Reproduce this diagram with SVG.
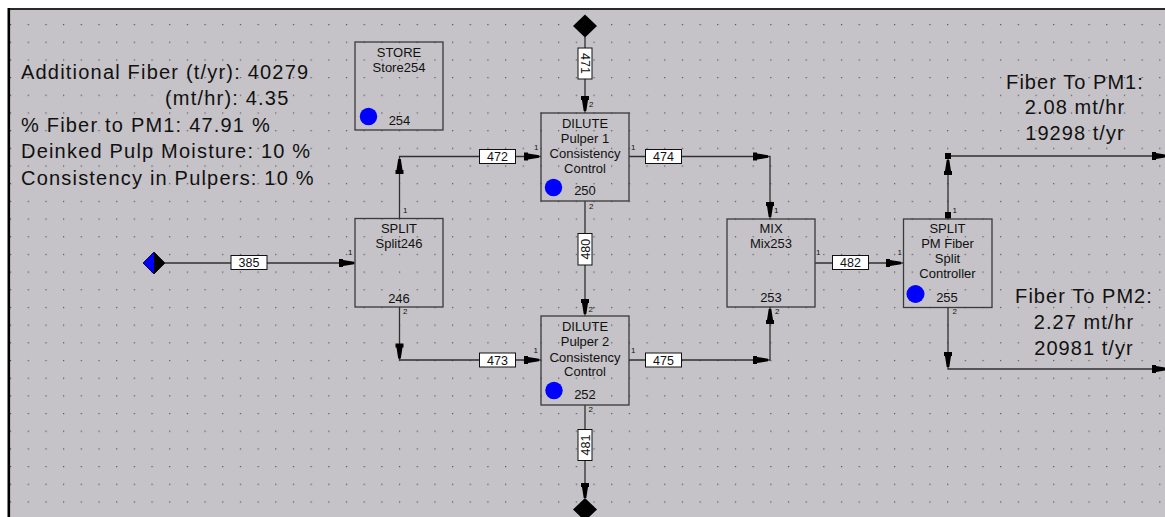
<svg xmlns="http://www.w3.org/2000/svg" xmlns:xlink="http://www.w3.org/1999/xlink" width="1165" height="517" viewBox="0 0 1165 517">
<style>
text{font-family:"Liberation Sans",Arial,sans-serif;fill:#111}
.nt{font-size:13px;text-anchor:middle}
.big{font-size:20px;letter-spacing:1.2px}
.bigc{font-size:20px;letter-spacing:1.05px;text-anchor:middle}
.port{font-size:8px}
.node{fill:none;stroke:#3a3a3a;stroke-width:1.3}
.dot{fill:#0000ff}
.ln{fill:none;stroke:#303030;stroke-width:1.3}
.lb{fill:#fff;stroke:#111;stroke-width:1}
.lt{font-size:12.5px;text-anchor:middle}
.ah{fill:#000}
</style>
<defs>
<pattern id="grid" patternUnits="userSpaceOnUse" x="10" y="6.32" width="17.68" height="17.68">
<rect x="0" y="0" width="1.2" height="1.2" fill="#555"/>
</pattern>
<path id="ah" class="ah" d="M-15,-4H-11V-3L0,-1.3V1.3L-11,3V4H-15Z"/>
</defs>
<rect x="0" y="0" width="1165" height="517" fill="#ffffff"/>
<rect x="9" y="9" width="1156" height="508" fill="#c5c3c7"/>
<rect x="9" y="9" width="1156" height="508" fill="url(#grid)"/>
<line x1="8" y1="9" x2="1165" y2="9" stroke="#2a2a2a" stroke-width="2"/>
<line x1="8.8" y1="8" x2="8.8" y2="517" stroke="#000" stroke-width="2.6"/>

<g id="info-left">
<text class="big" x="21" y="79">Additional Fiber (t/yr): 40279</text>
<text class="big" x="165" y="105">(mt/hr): 4.35</text>
<text class="big" x="21" y="132">% Fiber to PM1: 47.91 %</text>
<text class="big" x="21" y="158">Deinked Pulp Moisture: 10 %</text>
<text class="big" x="21" y="184.5">Consistency in Pulpers: 10 %</text>
</g>
<g id="info-pm1">
<text class="bigc" x="1075" y="88.5">Fiber To PM1:</text>
<text class="bigc" x="1075" y="114">2.08 mt/hr</text>
<text class="bigc" x="1075" y="140">19298 t/yr</text>
</g>
<g id="info-pm2">
<text class="bigc" x="1084" y="302.5">Fiber To PM2:</text>
<text class="bigc" x="1084" y="328.5">2.27 mt/hr</text>
<text class="bigc" x="1084" y="355">20981 t/yr</text>
</g>

<g id="connectors">
<path class="ln" d="M165,263H355"/>
<path class="ln" d="M585,37V113"/>
<path class="ln" d="M399.5,218V156.5H541"/>
<path class="ln" d="M629,156.5H770V219"/>
<path class="ln" d="M585,201V316"/>
<path class="ln" d="M399.5,307V360H541"/>
<path class="ln" d="M629,360H770V307"/>
<path class="ln" d="M815,263H903"/>
<path class="ln" d="M585,405V498"/>
<path class="ln" d="M948,219V156H1165"/>
<path class="ln" d="M948,307V369H1165"/>

<use xlink:href="#ah" transform="translate(354,263)"/>
<use xlink:href="#ah" transform="translate(399.5,159) rotate(-90)"/>
<use xlink:href="#ah" transform="translate(539,156.5)"/>
<use xlink:href="#ah" transform="translate(585,111) rotate(90)"/>
<use xlink:href="#ah" transform="translate(768,156.5)"/>
<use xlink:href="#ah" transform="translate(770,217) rotate(90)"/>
<use xlink:href="#ah" transform="translate(585,314) rotate(90)"/>
<use xlink:href="#ah" transform="translate(399.5,358.5) rotate(90)"/>
<use xlink:href="#ah" transform="translate(539,360)"/>
<use xlink:href="#ah" transform="translate(768,360)"/>
<use xlink:href="#ah" transform="translate(770,309) rotate(-90)"/>
<use xlink:href="#ah" transform="translate(901,263)"/>
<use xlink:href="#ah" transform="translate(585,498) rotate(90)"/>
<use xlink:href="#ah" transform="translate(948,160) rotate(-90)"/>
<use xlink:href="#ah" transform="translate(1167,156)"/>
<use xlink:href="#ah" transform="translate(948,367) rotate(90)"/>
<use xlink:href="#ah" transform="translate(1167,369)"/>
<rect class="ah" x="945" y="212" width="6" height="6.5"/>
<rect class="ah" x="945" y="153" width="6" height="6"/>

<rect class="lb" x="231" y="255.5" width="36" height="14"/>
<text class="lt" x="249" y="267.2">385</text>
<rect class="lb" x="479.5" y="149.5" width="36" height="14"/>
<text class="lt" x="497.5" y="161.2">472</text>
<rect class="lb" x="645.5" y="149.5" width="36" height="14"/>
<text class="lt" x="663.5" y="161.2">474</text>
<rect class="lb" x="479.5" y="353" width="36" height="14"/>
<text class="lt" x="497.5" y="364.7">473</text>
<rect class="lb" x="645.5" y="353" width="36" height="14"/>
<text class="lt" x="663.5" y="364.7">475</text>
<rect class="lb" x="832.5" y="255.5" width="36" height="14"/>
<text class="lt" x="850.5" y="267.2">482</text>
<rect class="lb" x="578" y="48" width="14" height="31"/>
<text class="lt" transform="translate(580.5,63.5) rotate(90)">471</text>
<rect class="lb" x="578" y="233.5" width="14" height="31.5"/>
<text class="lt" transform="translate(589.5,249.2) rotate(-90)">480</text>
<rect class="lb" x="578" y="429.5" width="14" height="31"/>
<text class="lt" transform="translate(589.5,445) rotate(-90)">481</text>

<text class="port" x="403" y="213">1</text>
<text class="port" x="348" y="255">1</text>
<text class="port" x="403" y="313.5">2</text>
<text class="port" x="589" y="107">2</text>
<text class="port" x="534" y="150">1</text>
<text class="port" x="631" y="150">1</text>
<text class="port" x="589" y="208.5">2</text>
<text class="port" x="588.5" y="311.5">2'</text>
<text class="port" x="533.5" y="353">1</text>
<text class="port" x="631" y="353">1</text>
<text class="port" x="588.5" y="412">2</text>
<text class="port" x="774" y="213">1</text>
<text class="port" x="816" y="255">1</text>
<text class="port" x="775" y="313.5">2</text>
<text class="port" x="897.5" y="255">1</text>
<text class="port" x="952.5" y="213">1</text>
<text class="port" x="952.5" y="313.5">2</text>
</g>

<g id="feed385">
<polygon points="154,252 143,263 154,274" fill="#0000ff"/>
<polygon points="154,252 165,263 154,274" fill="#000"/>
<polygon points="154,252 143,263 154,274 165,263" fill="none" stroke="#000" stroke-width="0.8"/>
</g>
<g id="source471">
<polygon points="585,14.5 597,26 585,37.5 573,26" fill="#000"/>
</g>
<g id="sink481">
<polygon points="585,498 597,509.5 585,521 573,509.5" fill="#000"/>
</g>

<g id="store254">
<rect class="node" x="355" y="42" width="88" height="88"/>
<text class="nt" x="399" y="56.5">STORE</text>
<text class="nt" x="399" y="71.5">Store254</text>
<circle class="dot" cx="368.5" cy="116.5" r="8.7"/>
<text class="nt" x="399.5" y="125">254</text>
</g>
<g id="split246">
<rect class="node" x="355" y="218.5" width="88" height="88.5"/>
<text class="nt" x="399" y="233">SPLIT</text>
<text class="nt" x="399" y="248">Split246</text>
<text class="nt" x="399" y="302.5">246</text>
</g>
<g id="dilute250">
<rect class="node" x="541" y="113" width="88" height="88"/>
<text class="nt" x="585" y="127.5">DILUTE</text>
<text class="nt" x="585" y="142.5">Pulper 1</text>
<text class="nt" x="585" y="158">Consistency</text>
<text class="nt" x="585" y="172.5">Control</text>
<circle class="dot" cx="553.5" cy="187.5" r="8.7"/>
<text class="nt" x="585" y="195">250</text>
</g>
<g id="dilute252">
<rect class="node" x="541" y="316" width="88" height="89"/>
<text class="nt" x="585" y="331">DILUTE</text>
<text class="nt" x="585" y="346">Pulper 2</text>
<text class="nt" x="585" y="361.5">Consistency</text>
<text class="nt" x="585" y="376">Control</text>
<circle class="dot" cx="554" cy="390.5" r="8.7"/>
<text class="nt" x="585" y="399">252</text>
</g>
<g id="mix253">
<rect class="node" x="727" y="219" width="88" height="88"/>
<text class="nt" x="771" y="233">MIX</text>
<text class="nt" x="771" y="248">Mix253</text>
<text class="nt" x="771" y="302">253</text>
</g>
<g id="split255">
<rect class="node" x="903.5" y="219" width="88.5" height="88.5"/>
<text class="nt" x="947.5" y="233">SPLIT</text>
<text class="nt" x="947.5" y="248">PM Fiber</text>
<text class="nt" x="947.5" y="263">Split</text>
<text class="nt" x="947.5" y="278">Controller</text>
<circle class="dot" cx="915.5" cy="294" r="9"/>
<text class="nt" x="947" y="302">255</text>
</g>
</svg>
